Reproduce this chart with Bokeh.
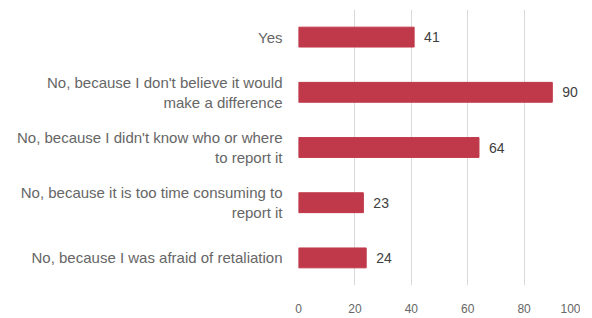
from bokeh.plotting import figure
from bokeh.models import ColumnDataSource, FactorRange, FixedTicker
from bokeh.core.properties import value
from bokeh.embed import file_html
from bokeh.resources import INLINE

categories = [
    "Yes",
    "No, because I don't believe it would\nmake a difference",
    "No, because I didn't know who or where\nto report it",
    "No, because it is too time consuming to\nreport it",
    "No, because I was afraid of retaliation",
]
counts = [41, 90, 64, 23, 24]
x_ticks = [0, 20, 40, 60, 80, 100]

FONT = "Liberation Sans"
BAR = "#C0394A"

src = ColumnDataSource(dict(cat=categories, val=counts, lab=[str(v) for v in counts]))

p = figure(
    frame_width=282, frame_height=276,
    y_range=FactorRange(*reversed(categories)),
    x_range=(0, 100),
    output_backend="svg", toolbar_location=None,
    min_border_top=9, min_border_right=0, min_border_left=298,
    min_border_bottom=0,
)

p.hbar(y="cat", right="val", left=0, height=0.36, source=src,
       fill_color=BAR, line_color=BAR)

p.text(x="val", y="cat", text="lab", source=src, x_offset=10,
       text_baseline="middle", text_align="left",
       text_font=value(FONT), text_font_size="14px", text_color="#404040")

p.outline_line_color = None
p.ygrid.grid_line_color = None
p.xgrid.grid_line_color = "#D9D9D9"
p.xgrid.ticker = FixedTicker(ticks=x_ticks)
p.xaxis.ticker = FixedTicker(ticks=x_ticks)

for ax in (p.xaxis[0], p.yaxis[0]):
    ax.axis_line_color = None
    ax.major_tick_line_color = None
    ax.minor_tick_line_color = None
    ax.major_label_text_font = FONT
    ax.major_label_text_color = "#666666"

p.xaxis.major_label_text_font_size = "12px"
p.xaxis.major_label_standoff = 12
p.yaxis.major_label_text_font_size = "15px"
p.yaxis.major_label_standoff = 10

open("out.html", "w").write(file_html(p, INLINE))
